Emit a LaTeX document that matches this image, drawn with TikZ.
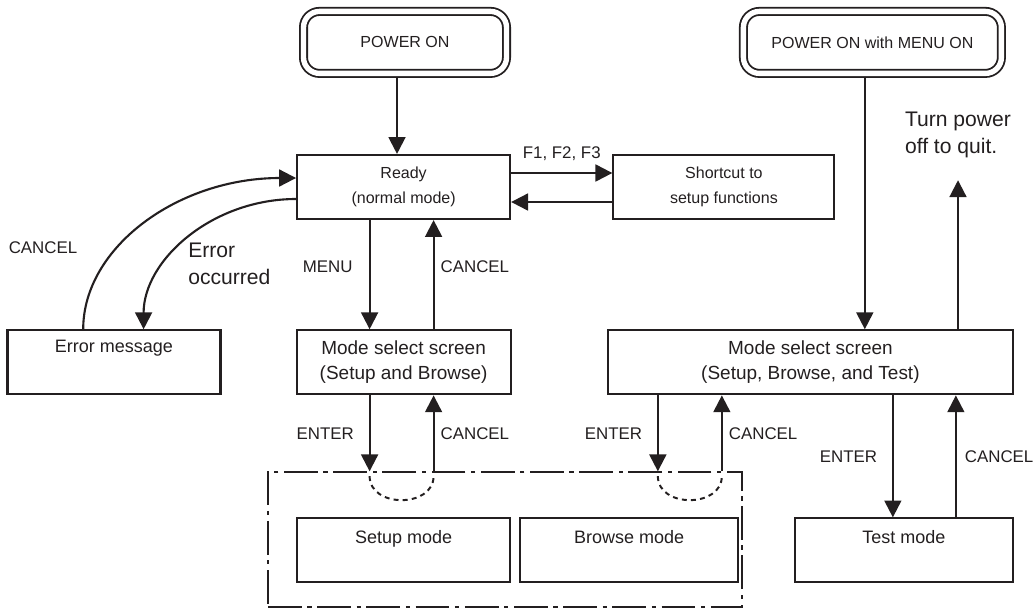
\documentclass[tikz,border=0pt]{standalone}
\usepackage{fontspec}
\setmainfont{Liberation Sans}
\definecolor{ink}{HTML}{231F20}
\usetikzlibrary{arrows.meta, positioning}

\begin{document}
\begin{tikzpicture}[
  node distance=0.7cm,
  every node/.style={align=center, text=ink},
  box/.style={rectangle, draw=ink, line width=1.5pt, inner sep=0pt,
              minimum height=1.6cm, minimum width=5.325cm,
              font=\fontsize{11.4}{17.8}\selectfont},
  selbox/.style={box, font=\fontsize{13.5}{17.8}\selectfont},
  modebox/.style={box, text depth=0.68cm, font=\fontsize{12.8}{16}\selectfont},
  pwrbox/.style={rectangle, draw=ink, double, double distance=3.8pt, line width=1.3pt,
                 rounded corners=0.4cm, minimum height=1.55cm, outer sep=3.2pt,
                 font=\fontsize{11.4}{14}\selectfont},
  grpbox/.style={rectangle, draw=ink, line width=1.1pt, inner sep=0pt,
                 dash pattern=on 24pt off 4pt on 3pt off 4pt},
  lbl/.style={font=\fontsize{12}{14}\selectfont, inner sep=0pt},
  biglbl/.style={font=\fontsize{15}{19.2}\selectfont, inner sep=0pt, align=left},
  arr/.style={-{Triangle[length=12pt, width=12pt]}, line width=1.5pt, color=ink},
  loopline/.style={line width=1.4pt, color=ink, dash pattern=on 3.5pt off 3pt}
]
  \useasboundingbox (0,0) rectangle (25.9,-15.2);

  % start screens
  \node[pwrbox, minimum width=5.075cm] (pwr) at (10.125,-1.06) {POWER ON};
  \node[pwrbox, minimum width=6.45cm] (pwrm) at (21.81,-1.06) {POWER ON with MENU ON};

  \node[box] (ready) at (10.09,-4.675) {Ready\\(normal mode)};
  \node[box, minimum width=5.525cm, right=2.53cm of ready] (short) {Shortcut to\\setup functions};
  \node[selbox, minimum width=5.35cm, below=2.73cm of ready] (msel) {Mode select screen\\(Setup and Browse)};
  \node[modebox, text depth=0.78cm, left=1.85cm of msel] (err) {Error message};
  \node[selbox, minimum width=10.125cm, right=2.38cm of msel] (mselr) {Mode select screen\\(Setup, Browse, and Test)};

  % mode screens
  \node[grpbox, minimum width=11.85cm, minimum height=3.375cm] (grp) at (12.625,-13.49) {};
  \node[modebox, below=3.05cm of msel] (setup) {Setup mode};
  \node[modebox, minimum width=5.45cm, right=0.2cm of setup] (browse) {Browse mode};
  \node[modebox, minimum width=5.45cm, anchor=east] (test) at (setup -| mselr.east) {Test mode};

  \node[lbl] (cancelerr) at (1.075,-6.2) {CANCEL};
  \node[biglbl, anchor=west] (errlbl) at (4.7,-6.6) {Error\\occurred};
  \node[biglbl] (quit) at (23.95,-3.375) {Turn power\\off to quit.};

  \coordinate (pwrout) at ([xshift=-0.2cm]pwr.south);
  \coordinate (pwrmout) at ([xshift=-0.19cm]pwrm.south);
  \coordinate (fkey) at ([yshift=0.35cm]ready.east);
  \coordinate (fback) at ([yshift=-0.375cm]ready.east);
  \coordinate (entL) at ([xshift=-0.85cm]msel.south);
  \coordinate (canL) at ([xshift=0.75cm]msel.south);
  \coordinate (entR) at ([xshift=1.275cm]mselr.south west);
  \coordinate (canR) at ([xshift=2.875cm]mselr.south west);
  \coordinate (entT) at ([xshift=7.15cm]mselr.south west);
  \coordinate (canT) at ([xshift=8.725cm]mselr.south west);
  \coordinate (entLg) at (entL |- grp.north);
  \coordinate (canLg) at (canL |- grp.north);
  \coordinate (entRg) at (entR |- grp.north);
  \coordinate (canRg) at (canR |- grp.north);

  \draw[arr] (pwrout) -- (pwrout |- ready.north);
  \draw[arr] (pwrmout) -- (pwrmout |- mselr.north);

  \draw[arr] (fkey) -- node[lbl, above=0.28cm] (fkeylbl) {F1, F2, F3} (fkey -| short.west);
  \draw[arr] (fback -| short.west) -- (fback);

  \draw[arr] (entL |- ready.south) -- node[lbl, left=0.4cm, pos=0.43] {MENU} (entL |- msel.north);
  \draw[arr] (canL |- msel.north) -- node[lbl, right=0.15cm, pos=0.57] {CANCEL} (canL |- ready.south);

  \draw[arr] ([xshift=-0.77cm]err.north) .. controls +(0,2.05) and +(-2.95,0) .. ([yshift=0.225cm]ready.west);
  \draw[arr] ([yshift=-0.3cm]ready.west) .. controls +(-2.1,0) and +(0,1.73) .. ([xshift=0.74cm]err.north);

  \draw[arr] (entL) -- node[lbl, left=0.37cm] {ENTER} (entLg);
  \draw[arr] (canLg) -- node[lbl, right=0.15cm] {CANCEL} (canL);
  \draw[loopline] ([yshift=-0.12cm]entLg) .. controls +(0,-0.8) and +(0,-0.8) .. ([yshift=-0.12cm]canLg);

  \draw[arr] (entR) -- node[lbl, left=0.37cm] {ENTER} (entRg);
  \draw[arr] (canRg) -- node[lbl, right=0.15cm] {CANCEL} (canR);
  \draw[loopline] ([yshift=-0.12cm]entRg) .. controls +(0,-0.8) and +(0,-0.8) .. ([yshift=-0.12cm]canRg);

  \draw[arr] (entT) -- node[lbl, left=0.37cm] {ENTER} (entT |- test.north);
  \draw[arr] (canT |- test.north) -- node[lbl, right=0.2cm] {CANCEL} (canT);

  \draw[arr] (mselr.north -| quit.south) -- ([yshift=-0.55cm]quit.south);
\end{tikzpicture}
\end{document}
